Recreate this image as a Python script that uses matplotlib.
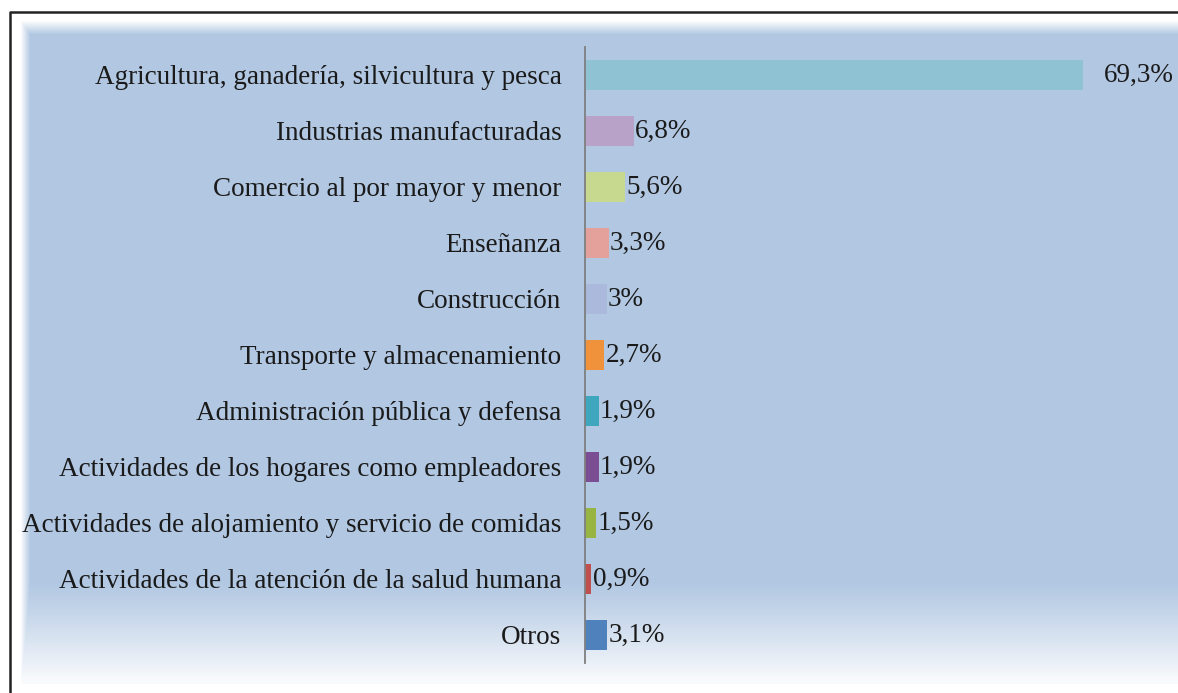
import numpy as np
import matplotlib
matplotlib.use("Agg")
import matplotlib.pyplot as plt
from matplotlib.colors import to_rgb

plt.rcParams.update({"font.family": ["Liberation Serif", "DejaVu Serif"], "font.size": 19.5})

sectores = ["Agricultura, ganadería, silvicultura y pesca", "Industrias manufacturadas",
            "Comercio al por mayor y menor", "Enseñanza", "Construcción",
            "Transporte y almacenamiento", "Administración pública y defensa",
            "Actividades de los hogares como empleadores",
            "Actividades de alojamiento y servicio de comidas",
            "Actividades de la atención de la salud humana", "Otros"]
porcentaje = [69.3, 6.8, 5.6, 3.3, 3.0, 2.7, 1.9, 1.9, 1.5, 0.9, 3.1]
etiquetas = ["69,3%", "6,8%", "5,6%", "3,3%", "3%", "2,7%", "1,9%", "1,9%", "1,5%", "0,9%", "3,1%"]
colores = ["#8fc3d4", "#b9a2c8", "#c6d98e", "#e4a09a", "#aab9dc", "#f0923c",
           "#3fa7bd", "#7b4e93", "#98b442", "#c0504d", "#4f81bd"]

W, H = 1178, 693
fig = plt.figure(figsize=(W / 100, H / 100), dpi=100)

# background panel: flat blue fading to white near the bottom, soft top/left edges
bg = fig.add_axes([0, 0, 1, 1], zorder=0)
bg.set_xlim(0, W); bg.set_ylim(H, 0); bg.axis("off")
blue = np.array(to_rgb("#b1c7e2")); white = np.ones(3)
yy = np.arange(H)[:, None]; xx = np.arange(W)[None, :]
t = np.clip((yy - 580) / 100.0, 0, 1) ** 1.1 * 0.92
t = np.maximum(t, np.clip((34 - yy) / 14.0, 0, 1))
t = np.maximum(t, np.clip((30 - xx) / 10.0, 0, 1))
t = np.maximum(t, np.clip((yy - 680) / 4.0, 0, 1))
img = blue[None, None, :] * (1 - t[..., None]) + white[None, None, :] * t[..., None]
img[:14, :, :] = 1; img[:, :12, :] = 1
bg.imshow(img, extent=(0, W, H, 0), aspect="auto", interpolation="bilinear")
bg.plot([10, 10, W], [H, 12, 12], color="#222222", lw=1.8, solid_capstyle="butt")

ax = fig.add_axes([585 / W, 1 - 663 / H, (1160 - 585) / W, (663 - 47) / H], zorder=1)
ax.patch.set_alpha(0)
y = np.arange(len(sectores))
ax.barh(y, porcentaje, height=0.53, color=colores)
ax.set_xlim(0, 80)
ax.set_ylim(len(sectores) - 0.5, -0.5)
ax.set_yticks(y, sectores)
ax.tick_params(axis="y", length=0, pad=17, labelcolor="#1a1a1a")
ax.set_xticks([])
for s in ["top", "right", "bottom"]:
    ax.spines[s].set_visible(False)
ax.spines["left"].set_color("#7f7f7f")
ax.spines["left"].set_linewidth(1.3)

for yi, v, lab in zip(y, porcentaje, etiquetas):
    off = 15 if v > 50 else 1
    ax.annotate(lab, (v, yi), xytext=(off, 0), textcoords="offset points",
                va="center", ha="left", color="#1a1a1a")

fig.savefig("out.png", dpi=100)
